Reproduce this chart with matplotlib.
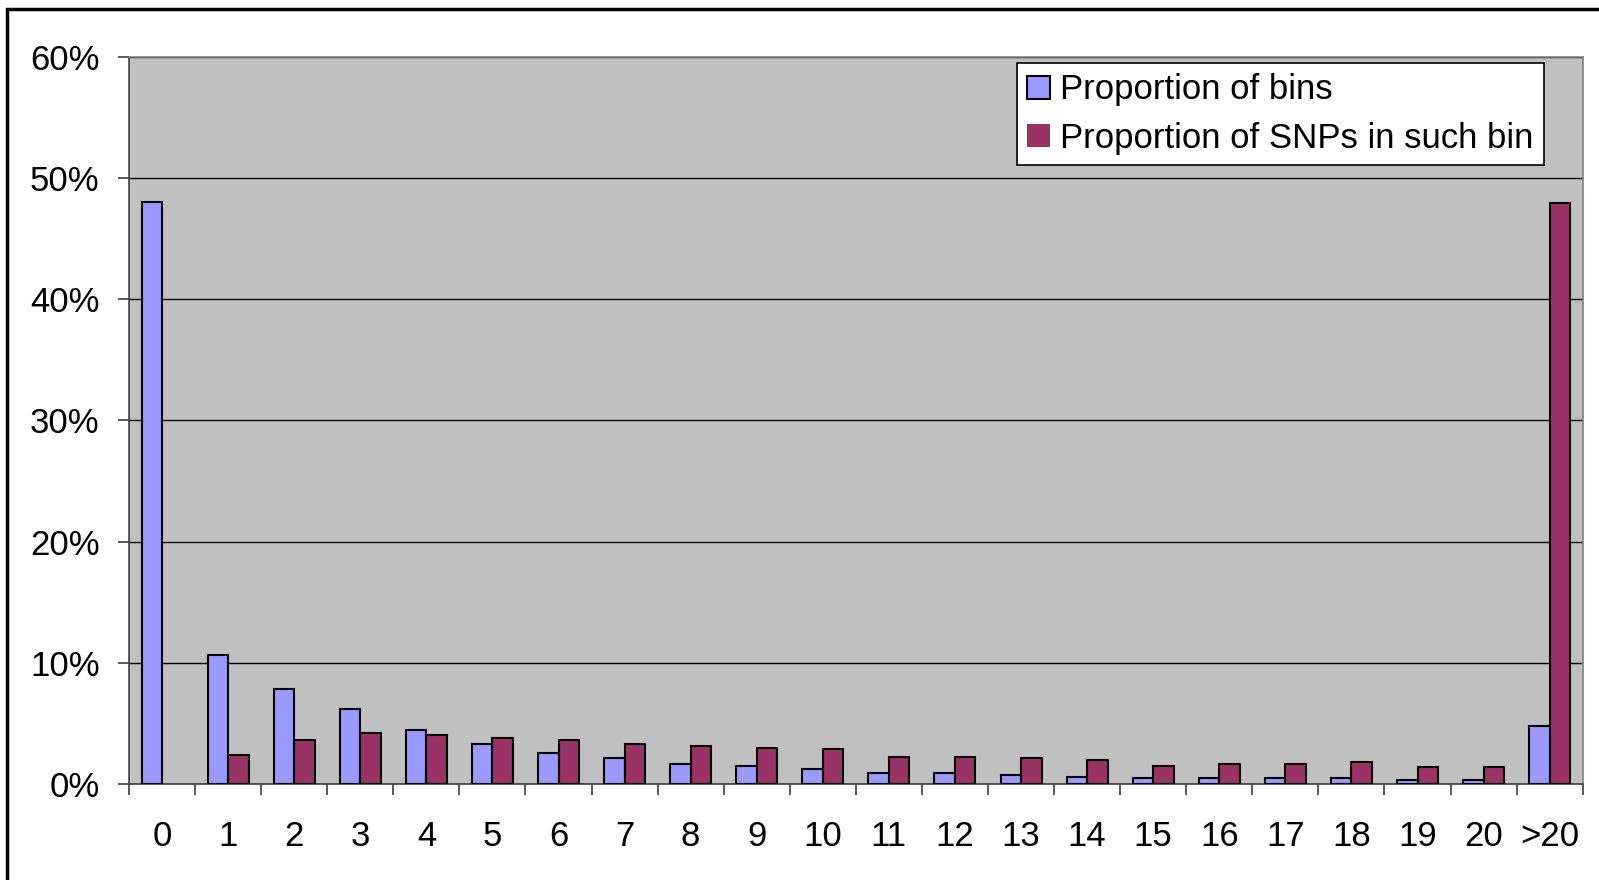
#!/usr/bin/env python3
"""Distribution of bins by SNP count, with the share of SNPs falling in each bin."""

import matplotlib
matplotlib.use("Agg")
import matplotlib.pyplot as plt
import numpy as np
from matplotlib.patches import Rectangle
from matplotlib.ticker import FuncFormatter, FixedLocator

plt.rcParams["font.family"] = ["Liberation Sans", "DejaVu Sans"]

CATEGORIES = [str(i) for i in range(21)] + [">20"]
PROP_BINS = [48.0, 10.67, 7.82, 6.17, 4.5, 3.29, 2.55, 2.11, 1.65, 1.5, 1.21,
             0.93, 0.93, 0.77, 0.6, 0.47, 0.47, 0.47, 0.47, 0.33, 0.33, 4.83]
PROP_SNPS = [0.0, 2.41, 3.62, 4.2, 4.03, 3.76, 3.62, 3.29, 3.15, 2.99, 2.88,
             2.25, 2.25, 2.11, 1.95, 1.51, 1.65, 1.65, 1.84, 1.37, 1.37, 47.9]

BLUE = "#9999FF"
PLUM = "#993366"
FS = 25

fig = plt.figure(figsize=(15.99, 8.8), dpi=100)
ax = fig.add_axes([0.0807, 0.109, 0.9091, 0.8266])
ax.set_facecolor("#C0C0C0")

x = np.arange(len(CATEGORIES))
w = 0.31


def edge_widths(vals):
    # empty bins get no outline
    return [0 if v == 0 else 1.5 for v in vals]


ax.bar(x - w / 2, PROP_BINS, w, color=BLUE, edgecolor="black",
       linewidth=edge_widths(PROP_BINS), label="Proportion of bins", zorder=3)
ax.bar(x + w / 2, PROP_SNPS, w, color=PLUM, edgecolor="black",
       linewidth=edge_widths(PROP_SNPS), label="Proportion of SNPs in such bin",
       zorder=3)

ax.set_xlim(-0.5, len(CATEGORIES) - 0.5)
ax.set_ylim(0, 60)
ax.set_yticks(np.arange(0, 61, 10))
ax.yaxis.set_major_formatter(FuncFormatter(lambda v, _: f"{v:.0f}%"))
ax.grid(axis="y", color="black", linewidth=1, zorder=1)

ax.set_xticks(x)
ax.set_xticklabels(CATEGORIES)
ax.xaxis.set_minor_locator(FixedLocator(np.arange(-0.5, len(CATEGORIES), 1.0)))
ax.tick_params(axis="x", which="major", length=0, pad=26, labelsize=FS)
ax.tick_params(axis="x", which="minor", length=8, width=1.2, color="#404040")
ax.tick_params(axis="y", length=7.7, width=1.2, color="#404040", pad=13.5,
               labelsize=FS)

for side in ("top", "right"):
    ax.spines[side].set_color("#808080")
    ax.spines[side].set_linewidth(1.2)
for side in ("left", "bottom"):
    ax.spines[side].set_color("#404040")
    ax.spines[side].set_linewidth(1.2)

leg = ax.legend(loc="upper right", bbox_to_anchor=(1544 / 1599, 1 - 63 / 880),
                bbox_transform=fig.transFigure, fontsize=FS, frameon=True,
                fancybox=False, framealpha=1, edgecolor="black",
                handlelength=0.65, handleheight=0.65, handletextpad=0.3,
                borderpad=0.3, labelspacing=0.45, borderaxespad=0)
leg.get_frame().set_linewidth(1.2)

# outer chart border
fig.patches.append(Rectangle((7 / 1599, -0.05), 1.2, 1 - 9 / 880 + 0.05,
                             transform=fig.transFigure, fill=False,
                             edgecolor="black", linewidth=2.5))

fig.savefig("out.png", dpi=100)
